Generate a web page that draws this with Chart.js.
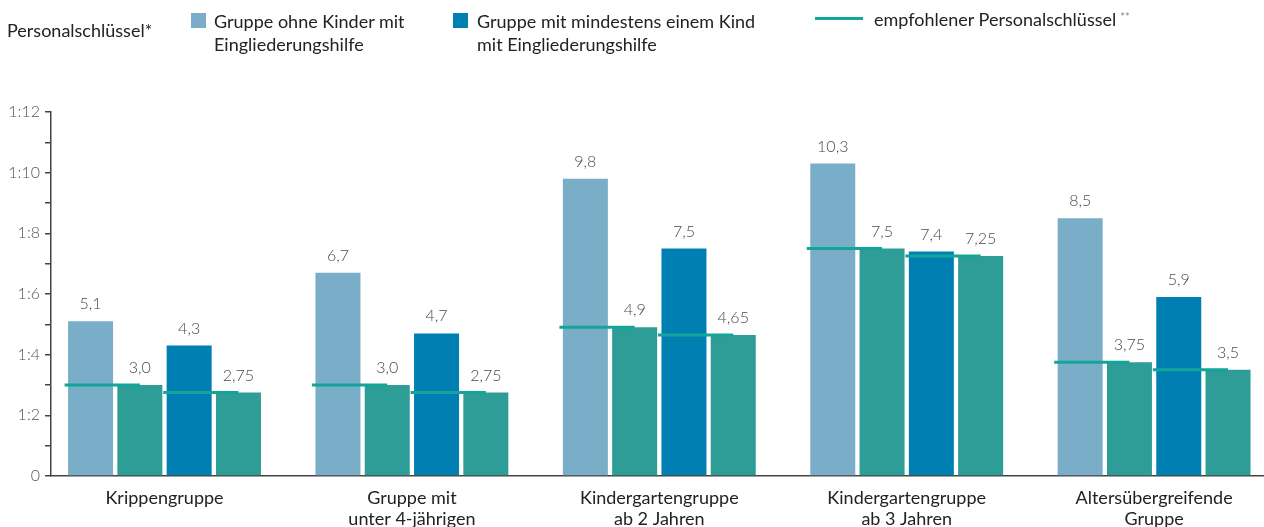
<!DOCTYPE html>
<html lang="de">
<head>
<meta charset="utf-8">
<script src="https://cdn.jsdelivr.net/npm/chart.js@4.4.1/dist/chart.umd.min.js"></script>
<style>
    body { margin: 0; background: #fff; font-family: Lato, "Noto Sans", sans-serif; color: #222; }
    #wrap { position: relative; width: 1264px; height: 527px; overflow: hidden; }
    #chart { position: absolute; left: 0; top: 0; }
    .leg { position: absolute; font-size: 18px; line-height: 23px; white-space: nowrap; }
    .box { position: absolute; width: 15px; height: 15px; }
    .stroke { position: absolute; width: 48px; height: 3px; background: #13a59a; }
    .stars { font-size: 11px; color: #888; vertical-align: 5px; margin-left: 4px; }
</style>
</head>
<body>
<div id="wrap">
    <canvas id="chart" width="1264" height="527"></canvas>
    <div class="leg" style="left:7px; top:19px;">Personalschlüssel*</div>
    <div class="box" style="left:191px; top:13px; background:#79adc8;"></div>
    <div class="leg" style="left:214px; top:10px;">Gruppe ohne Kinder mit<br>Eingliederungshilfe</div>
    <div class="box" style="left:453px; top:13px; background:#0080b2;"></div>
    <div class="leg" style="left:477px; top:10px;">Gruppe mit mindestens einem Kind<br>mit Eingliederungshilfe</div>
    <div class="stroke" style="left:815px; top:17px;"></div>
    <div class="leg" style="left:874px; top:5px;">empfohlener Personalschlüssel<span class="stars">**</span></div>
</div>
<script>
// Daten
const categories = [
    ["Krippengruppe"],
    ["Gruppe mit", "unter 4-jährigen"],
    ["Kindergartengruppe", "ab 2 Jahren"],
    ["Kindergartengruppe", "ab 3 Jahren"],
    ["Altersübergreifende", "Gruppe"],
];
const ohneKinder = [5.1, 6.7, 9.8, 10.3, 8.5];
const empfohlenOhne = [3.0, 3.0, 4.9, 7.5, 3.75];
const mitKind = [4.3, 4.7, 7.5, 7.4, 5.9];
const empfohlenMit = [2.75, 2.75, 4.65, 7.25, 3.5];
const yTickValues = [0, 2, 4, 6, 8, 10, 12];
const yTickLabels = ["0", "1:2", "1:4", "1:6", "1:8", "1:10", "1:12"];

// Farben
const LIGHT_BLUE = "#79adc8";
const DARK_BLUE = "#0080b2";
const TEAL = "#2e9c97";
const LINE_TEAL = "#13a59a";

// Geometrie der Gruppen (in Kategorie-Einheiten)
const CAT_PCT = 0.797;
const BAR_PCT = 0.913;
const X_MIN = -0.4588;
const X_MAX = 4.4442;
const slot = CAT_PCT / 4;
const halfBar = slot * BAR_PCT / 2;
const lead = 0.014;
const barCenter = (k) => (k - 1.5) * slot;

const toPoints = (arr) => arr.map((v, i) => ({ x: i, y: v }));
const fmt = (v) => (Number.isInteger(v) ? v.toFixed(1) : String(v)).replace(".", ",");

// Linie "empfohlener Personalschlüssel": vom linken Rand des ersten Balkens bis zur Mitte des Vergleichsbalkens
const lineData = [];
categories.forEach((c, i) => {
    lineData.push({ x: i + barCenter(0) - halfBar - lead, y: empfohlenOhne[i] });
    lineData.push({ x: i + barCenter(1), y: empfohlenOhne[i] });
    lineData.push({ x: i, y: null });
    lineData.push({ x: i + barCenter(2) - halfBar - lead, y: empfohlenMit[i] });
    lineData.push({ x: i + barCenter(3), y: empfohlenMit[i] });
    lineData.push({ x: i + 0.5, y: null });
});

// Werte über den Balken
const valueLabels = {
    id: "valueLabels",
    afterDatasetsDraw(chart) {
        const ctx = chart.ctx;
        ctx.save();
        ctx.font = "300 16px Lato";
        ctx.fillStyle = "#4a4a4a";
        ctx.textAlign = "center";
        ctx.textBaseline = "alphabetic";
        chart.data.datasets.forEach((ds, di) => {
            if (ds.type === "line") return;
            chart.getDatasetMeta(di).data.forEach((bar, i) => {
                ctx.fillText(fmt(ds.data[i].y), bar.x, bar.y - 12);
            });
        });
        ctx.restore();
    }
};

const barBase = { type: "bar", order: 1, categoryPercentage: CAT_PCT, barPercentage: BAR_PCT };

new Chart(document.getElementById("chart"), {
    data: {
        datasets: [
            { ...barBase, label: "Gruppe ohne Kinder mit Eingliederungshilfe", data: toPoints(ohneKinder), backgroundColor: LIGHT_BLUE },
            { ...barBase, label: "empfohlen (ohne)", data: toPoints(empfohlenOhne), backgroundColor: TEAL },
            { ...barBase, label: "Gruppe mit mindestens einem Kind mit Eingliederungshilfe", data: toPoints(mitKind), backgroundColor: DARK_BLUE },
            { ...barBase, label: "empfohlen (mit)", data: toPoints(empfohlenMit), backgroundColor: TEAL },
            {
                type: "line", order: 0, label: "empfohlener Personalschlüssel",
                data: lineData, borderColor: LINE_TEAL, borderWidth: 3,
                pointRadius: 0, spanGaps: false, tension: 0, fill: false,
            },
        ],
    },
    options: {
        responsive: false,
        animation: false,
        layout: { padding: { top: 112, left: 0, right: 0, bottom: 0 } },
        plugins: { legend: { display: false }, tooltip: { enabled: false } },
        scales: {
            x: {
                type: "linear",
                offset: false,
                min: X_MIN,
                max: X_MAX,
                grid: { display: false, drawTicks: false },
                border: { color: "#444", width: 1.5 },
                afterBuildTicks: (scale) => { scale.ticks = categories.map((c, i) => ({ value: i })); },
                afterFit: (scale) => { scale.height = 51; },
                ticks: {
                    autoSkip: false,
                    maxRotation: 0,
                    padding: 11,
                    color: "#222",
                    font: { family: "Lato", size: 18 },
                    callback: (v, i) => categories[i],
                },
            },
            y: {
                min: 0,
                max: 12,
                afterBuildTicks: (scale) => {
                    scale.ticks = [];
                    for (let v = 0; v <= 12; v++) scale.ticks.push({ value: v });
                },
                afterFit: (scale) => { scale.width = 51; },
                grid: { drawOnChartArea: false, tickLength: 6, color: "#444", lineWidth: 1.5 },
                border: { color: "#444", width: 1.5 },
                ticks: {
                    padding: 5,
                    color: "#555",
                    font: { family: "Lato", size: 16, weight: "300" },
                    callback: (v) => {
                        const k = yTickValues.indexOf(v);
                        return k >= 0 ? yTickLabels[k] : "";
                    },
                },
            },
        },
    },
    plugins: [valueLabels],
});
</script>
</body>
</html>
